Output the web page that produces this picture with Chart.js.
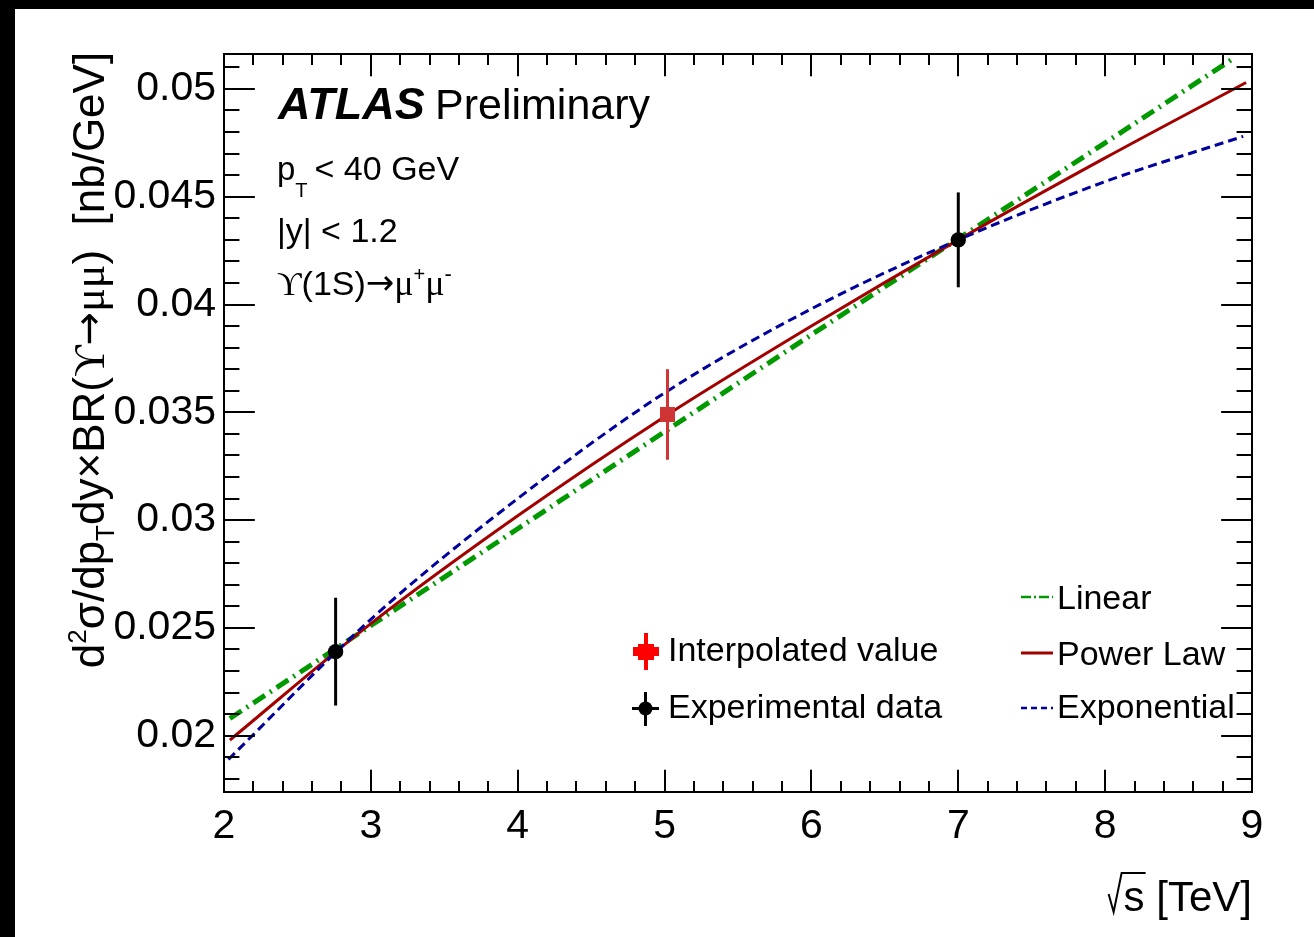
<!DOCTYPE html>
<html>
<head>
<meta charset="utf-8">
<script src="https://cdn.jsdelivr.net/npm/chart.js@4"></script>
<style>
  html, body { margin: 0; padding: 0; background: #fff; }
  canvas { display: block; }
</style>
</head>
<body>
<canvas id="chart" width="1314" height="937"></canvas>
<script>
// axis ticks
const xTicks = [2, 3, 4, 5, 6, 7, 8, 9];
const yTicks = [0.02, 0.025, 0.03, 0.035, 0.04, 0.045, 0.05];
const yTickLabels = ["0.02", "0.025", "0.03", "0.035", "0.04", "0.045", "0.05"];

// measured cross sections
const dataX = [2.76, 7.0];
const dataY = [0.0239, 0.0430];
const dataErr = [0.0025, 0.0022];

// value interpolated to 5.02 TeV
const interpX = [5.02];
const interpY = [0.0349];
const interpErr = [0.0021];

// fit curves
const linearX = [2.04, 4, 6, 8, 8.87];
const linearY = [0.0208, 0.0296, 0.0386, 0.0475, 0.0514];
const powerX = [2.04, 3, 4, 5, 6, 7, 8, 8.96];
const powerY = [0.0198, 0.0252, 0.0302, 0.0348, 0.0390, 0.0430, 0.0468, 0.0503];
const expoX = [2.03, 3, 4, 5, 6, 7, 8, 8.94];
const expoY = [0.0189, 0.0254, 0.0310, 0.0359, 0.0398, 0.0430, 0.0457, 0.0478];

const FONT = "'Liberation Sans', Arial, Helvetica, sans-serif";
const GREEK = "'Liberation Serif', 'DejaVu Serif', serif";
const ARROW = "'DejaVu Sans', sans-serif";
const GREEN = "#009a00", RED = "#a30000", BLUE = "#00009c", POINT_RED = "#d03535";

function pts(xs, ys) {
  return xs.map((x, i) => ({ x: x, y: ys[i] }));
}

// draws a run of text pieces (normal / sub / superscript), returns width
function textRun(ctx, x, y, parts, measureOnly) {
  let cx = x;
  for (const p of parts) {
    ctx.font = (p.style || "") + " " + p.size + "px " + (p.family || FONT);
    if (!measureOnly) ctx.fillText(p.t, cx, y + (p.dy || 0));
    cx += ctx.measureText(p.t).width + (p.gap || 0);
  }
  return cx - x;
}

const errorBars = {
  id: "errorBars",
  beforeDatasetDraw(chart, args) {
    const ds = chart.data.datasets[args.index];
    if (!ds.errors) return;
    const ctx = chart.ctx, xs = chart.scales.x, ys = chart.scales.y;
    ctx.save();
    ctx.strokeStyle = ds.errorColor;
    ctx.lineWidth = 3;
    ds.data.forEach((p, i) => {
      const px = xs.getPixelForValue(p.x);
      ctx.beginPath();
      ctx.moveTo(px, ys.getPixelForValue(p.y - ds.errors[i]));
      ctx.lineTo(px, ys.getPixelForValue(p.y + ds.errors[i]));
      ctx.stroke();
    });
    ctx.restore();
  }
};

const frameAndText = {
  id: "frameAndText",
  beforeDraw(chart) {
    const ctx = chart.ctx;
    ctx.save();
    ctx.fillStyle = "#fff";
    ctx.fillRect(0, 0, chart.width, chart.height);
    ctx.fillStyle = "#000";
    ctx.fillRect(0, 0, chart.width, 9);
    ctx.fillRect(0, 0, 15, chart.height);
    ctx.restore();
  },
  afterDraw(chart) {
    const ctx = chart.ctx, a = chart.chartArea;
    const xs = chart.scales.x, ys = chart.scales.y;
    ctx.save();
    ctx.strokeStyle = "#000";
    ctx.fillStyle = "#000";
    ctx.lineWidth = 2;

    // frame
    ctx.strokeRect(a.left, a.top, a.right - a.left, a.bottom - a.top);

    // inward ticks on all four sides
    ctx.beginPath();
    const h = a.bottom - a.top, w = a.right - a.left;
    const xMaj = 0.03 * h, yMaj = 0.03 * w;
    for (let v = 2; v <= 9.0001; v += 0.2) {
      const px = Math.round(xs.getPixelForValue(v));
      const major = Math.abs(v - Math.round(v)) < 1e-6;
      const len = major ? xMaj : xMaj / 2;
      ctx.moveTo(px, a.bottom); ctx.lineTo(px, a.bottom - len);
      ctx.moveTo(px, a.top); ctx.lineTo(px, a.top + len);
    }
    for (let k = 18; k <= 51; k++) {
      const py = Math.round(ys.getPixelForValue(k / 1000));
      const len = k % 5 === 0 ? yMaj : yMaj / 2;
      ctx.moveTo(a.left, py); ctx.lineTo(a.left + len, py);
      ctx.moveTo(a.right, py); ctx.lineTo(a.right - len, py);
    }
    ctx.stroke();

    ctx.textBaseline = "alphabetic";
    ctx.textAlign = "left";

    // ATLAS label
    ctx.font = "italic bold 45px " + FONT;
    ctx.fillText("ATLAS", 278, 119);
    ctx.font = "43px " + FONT;
    ctx.fillText("Preliminary", 435, 119);

    // selection cuts
    textRun(ctx, 277, 180, [
      { t: "p", size: 33 },
      { t: "T", size: 20, dy: 17, gap: 7 },
      { t: "< 40 GeV", size: 34 }
    ]);
    textRun(ctx, 277, 242, [{ t: "|y| < 1.2", size: 34 }]);
    textRun(ctx, 277, 295, [
      { t: "\u03d2", size: 34, family: GREEK },
      { t: "(1S)", size: 34 },
      { t: "\u2192", size: 34, family: ARROW, dy: -1 },
      { t: "\u03bc", size: 36, family: GREEK },
      { t: "+", size: 20, dy: -14 },
      { t: "\u03bc", size: 36, family: GREEK },
      { t: "-", size: 22, dy: -14 }
    ]);

    // x axis title with a drawn radical
    ctx.font = "42px " + FONT;
    const xt = "s [TeV]";
    const sx = 1252 - ctx.measureText(xt).width;
    ctx.fillText(xt, sx, 911);
    ctx.beginPath();
    ctx.moveTo(sx - 15, 894);
    ctx.lineTo(sx - 10, 912);
    ctx.lineTo(sx - 2, 873);
    ctx.lineTo(sx + 22, 873);
    ctx.stroke();

    // y axis title
    ctx.save();
    ctx.translate(104, 360);
    ctx.rotate(-Math.PI / 2);
    const yParts = [
      { t: "d", size: 44 },
      { t: "2", size: 26, dy: -18 },
      { t: "\u03c3", size: 44 },
      { t: "/dp", size: 44 },
      { t: "T", size: 26, dy: 10 },
      { t: "dy\u00d7BR(", size: 44 },
      { t: "\u03d2", size: 44, family: GREEK },
      { t: "\u2192", size: 40, family: ARROW, dy: -2 },
      { t: "\u03bc\u03bc", size: 44, family: GREEK },
      { t: ")  [nb/GeV]", size: 44 }
    ];
    const tw = textRun(ctx, 0, 0, yParts, true);
    textRun(ctx, -tw / 2, 0, yParts);
    ctx.restore();

    // legend: points
    ctx.font = "34px " + FONT;
    ctx.fillText("Interpolated value", 668, 661);
    ctx.fillText("Experimental data", 668, 718);
    ctx.fillStyle = "#ff0000";
    ctx.fillRect(644, 633, 4, 37);
    ctx.fillRect(633, 647, 26, 9);
    ctx.fillRect(638, 644, 16, 16);
    ctx.fillStyle = "#000";
    ctx.fillRect(644, 692, 3, 34);
    ctx.fillRect(632, 707, 27, 3);
    ctx.beginPath();
    ctx.arc(645.5, 708.5, 7, 0, Math.PI * 2);
    ctx.fill();

    // legend: fit curves
    ctx.fillText("Linear", 1057, 609);
    ctx.fillText("Power Law", 1057, 665);
    ctx.fillText("Exponential", 1057, 718);
    const sample = (y, color, width, dash) => {
      ctx.beginPath();
      ctx.strokeStyle = color;
      ctx.lineWidth = width;
      ctx.setLineDash(dash);
      ctx.moveTo(1021, y);
      ctx.lineTo(1053, y);
      ctx.stroke();
    };
    sample(597, GREEN, 2.5, [10, 3, 2, 3]);
    sample(653, RED, 3, []);
    sample(708, BLUE, 2.5, [6, 4]);
    ctx.restore();
  }
};

new Chart(document.getElementById("chart"), {
  type: "scatter",
  data: {
    datasets: [
      {
        label: "Interpolated value",
        data: pts(interpX, interpY),
        errors: interpErr,
        errorColor: POINT_RED,
        pointStyle: "rect",
        pointRadius: 10.6,
        backgroundColor: POINT_RED,
        borderWidth: 0,
        order: 0
      },
      {
        label: "Experimental data",
        data: pts(dataX, dataY),
        errors: dataErr,
        errorColor: "#000",
        pointStyle: "circle",
        pointRadius: 7.7,
        backgroundColor: "#000",
        borderWidth: 0,
        order: 0
      },
      {
        label: "Linear",
        data: pts(linearX, linearY),
        showLine: true,
        pointRadius: 0,
        borderColor: GREEN,
        borderWidth: 5,
        borderDash: [14, 6, 2, 6],
        order: 3
      },
      {
        label: "Power Law",
        data: pts(powerX, powerY),
        showLine: true,
        pointRadius: 0,
        borderColor: RED,
        borderWidth: 3,
        cubicInterpolationMode: "monotone",
        order: 2
      },
      {
        label: "Exponential",
        data: pts(expoX, expoY),
        showLine: true,
        pointRadius: 0,
        borderColor: BLUE,
        borderWidth: 3,
        borderDash: [9, 5],
        cubicInterpolationMode: "monotone",
        order: 1
      }
    ]
  },
  options: {
    responsive: false,
    animation: false,
    events: [],
    layout: { padding: { top: 54, right: 62, left: 0, bottom: 0 } },
    plugins: { legend: { display: false }, tooltip: { enabled: false } },
    scales: {
      x: {
        type: "linear",
        min: 2,
        max: 9,
        grid: { display: false, drawTicks: false },
        border: { display: false },
        afterFit(scale) { scale.height = 145; },
        afterBuildTicks(scale) { scale.ticks = xTicks.map(v => ({ value: v })); },
        ticks: {
          color: "#000",
          padding: 10,
          maxRotation: 0,
          font: { family: FONT, size: 41 },
          callback: v => String(v)
        }
      },
      y: {
        type: "linear",
        min: 0.01739,
        max: 0.05162,
        grid: { display: false, drawTicks: false },
        border: { display: false },
        afterFit(scale) { scale.width = 224; },
        afterBuildTicks(scale) { scale.ticks = yTicks.map(v => ({ value: v })); },
        ticks: {
          color: "#000",
          padding: 8,
          font: { family: FONT, size: 41 },
          callback: v => yTickLabels[yTicks.findIndex(t => Math.abs(t - v) < 1e-9)]
        }
      }
    }
  },
  plugins: [errorBars, frameAndText]
});
</script>
</body>
</html>
